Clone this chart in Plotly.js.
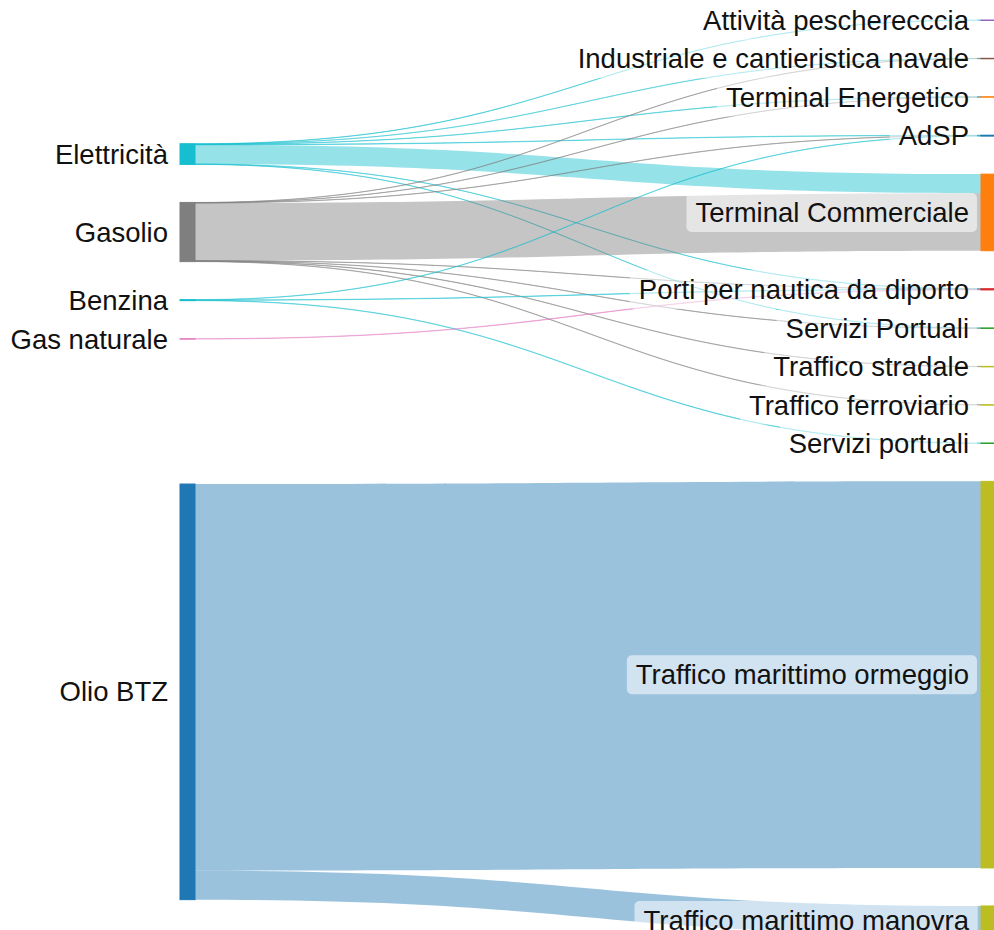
<!DOCTYPE html>
<html>
<head>
<meta charset="utf-8">
<script src="https://cdn.plot.ly/plotly-3.0.1.min.js"></script>
<style>
  html, body { margin: 0; padding: 0; overflow: hidden; background: #fff; }
  #chart { width: 996px; height: 950px; }
</style>
</head>
<body>
<div id="chart"></div>
<script>
// ---------------- data ----------------
const sourceLabels = ["Elettricità", "Gasolio", "Benzina", "Gas naturale", "Olio BTZ"];
const targetLabels = [
  "Attività pescherecccia", "Industriale e cantieristica navale", "Terminal Energetico", "AdSP",
  "Terminal Commerciale", "Porti per nautica da diporto", "Servizi Portuali", "Traffico stradale",
  "Traffico ferroviario", "Servizi portuali", "Traffico marittimo ormeggio", "Traffico marittimo manovra"
];
const sourceColors = ["#17becf", "#7f7f7f", "#17becf", "#e377c2", "#1f77b4"];
const targetColors = [
  "#9467bd", "#8c564b", "#ff7f0e", "#1f77b4",
  "#ff7f0e", "#d62728", "#2ca02c", "#bcbd22",
  "#bcbd22", "#2ca02c", "#bcbd22", "#bcbd22"
];
const linkSources = [
  "Elettricità", "Elettricità", "Elettricità", "Elettricità", "Elettricità", "Elettricità", "Elettricità",
  "Gasolio", "Gasolio", "Gasolio", "Gasolio", "Gasolio", "Gasolio", "Gasolio", "Gasolio",
  "Benzina", "Benzina", "Benzina",
  "Gas naturale",
  "Olio BTZ", "Olio BTZ"
];
const linkTargets = [
  "Attività pescherecccia", "Industriale e cantieristica navale", "Terminal Energetico", "AdSP",
  "Terminal Commerciale", "Porti per nautica da diporto", "Servizi Portuali",
  "Industriale e cantieristica navale", "Terminal Energetico", "AdSP", "Terminal Commerciale",
  "Porti per nautica da diporto", "Servizi Portuali", "Traffico stradale", "Traffico ferroviario",
  "AdSP", "Porti per nautica da diporto", "Servizi portuali",
  "Porti per nautica da diporto",
  "Traffico marittimo ormeggio", "Traffico marittimo manovra"
];
const linkValues = [
  0.3, 0.2, 0.3, 0.35, 19.1, 0.25, 0.2,
  0.2, 0.2, 0.25, 57.4, 0.2, 0.25, 0.3, 0.3,
  0.3, 0.35, 0.4,
  0.4,
  386, 29
];

(function () {
  // ---------------- layout constants ----------------
  const FIG_W = 996, FIG_H = 950;
  const MARGIN = { l: 180, r: 0, t: 20, b: 15 };
  const PAD = 38, THICK = 15, GAP = 12;
  const W = FIG_W - MARGIN.l - MARGIN.r;
  const H = FIG_H - MARGIN.t - MARGIN.b;

  const nodeLabels = sourceLabels.concat(targetLabels);
  const nodeColors = sourceColors.concat(targetColors);
  const nS = sourceLabels.length;
  const src = linkSources.map(s => nodeLabels.indexOf(s));
  const tgt = linkTargets.map(t => nodeLabels.indexOf(t));

  function hexToRgba(hex, a) {
    const n = parseInt(hex.slice(1), 16);
    return "rgba(" + ((n >> 16) & 255) + "," + ((n >> 8) & 255) + "," + (n & 255) + "," + a + ")";
  }
  const linkColors = src.map(i => hexToRgba(nodeColors[i], 0.45));

  // node values and vertical placement derived from the flows
  const nodeVal = nodeLabels.map((_, i) => {
    let a = 0, b = 0;
    linkValues.forEach((v, k) => { if (src[k] === i) a += v; if (tgt[k] === i) b += v; });
    return Math.max(a, b);
  });
  const srcIdx = sourceLabels.map((_, i) => i);
  const tgtIdx = targetLabels.map((_, j) => nS + j);
  const colKy = col => (H - (col.length - 1) * PAD) / col.reduce((s, i) => s + nodeVal[i], 0);
  const ky = Math.min(colKy(srcIdx), colKy(tgtIdx));

  const nodeTop = new Array(nodeLabels.length).fill(0);
  let acc = 0;
  tgtIdx.forEach(i => { nodeTop[i] = acc; acc += nodeVal[i] * ky + PAD; });
  const desired = srcIdx.map(s => {
    let num = 0, den = 0;
    linkValues.forEach((v, k) => {
      if (src[k] !== s) return;
      const t = tgt[k];
      let arr = nodeTop[t], dep = 0;
      linkValues.forEach((v2, k2) => {
        if (tgt[k2] === t && src[k2] < s) arr += v2 * ky;
        if (src[k2] === s && tgt[k2] < t) dep += v2 * ky;
      });
      num += v * (arr - dep); den += v;
    });
    return num / den;
  });
  let blocks = srcIdx.map(s => ({ nodes: [s], w: nodeVal[s], pos: desired[s], h: nodeVal[s] * ky }));
  blocks.forEach(b => { b.sum = b.w * b.pos; });
  let merged = true;
  while (merged) {
    merged = false;
    for (let k = 1; k < blocks.length; k++) {
      const a = blocks[k - 1], b = blocks[k];
      if (b.pos < a.pos + a.h + PAD) {
        const off = a.h + PAD;
        const nb = { nodes: a.nodes.concat(b.nodes), w: a.w + b.w, h: a.h + PAD + b.h };
        nb.sum = a.sum + b.sum - b.w * off;
        nb.pos = nb.sum / nb.w;
        blocks.splice(k - 1, 2, nb);
        merged = true;
        break;
      }
    }
  }
  blocks.forEach(b => {
    let y = Math.max(0, Math.min(H - b.h, b.pos));
    b.nodes.forEach(s => { nodeTop[s] = y; y += nodeVal[s] * ky + PAD; });
  });

  const nodeX = nodeLabels.map((_, i) => i < nS ? (THICK / 2) / W : 1 - (THICK / 2) / W);
  const nodeY = nodeLabels.map((_, i) => (nodeTop[i] + nodeVal[i] * ky / 2) / H);

  const data = [{
    type: "sankey",
    orientation: "h",
    arrangement: "fixed",
    node: {
      label: nodeLabels,
      color: nodeColors,
      x: nodeX,
      y: nodeY,
      pad: PAD,
      thickness: THICK,
      line: { width: 0 }
    },
    link: {
      source: src,
      target: tgt,
      value: linkValues,
      color: linkColors
    },
    textfont: { family: "Liberation Sans, Arial, sans-serif", size: 27.5, color: "#111" }
  }];

  const layout = {
    width: FIG_W,
    height: FIG_H,
    margin: MARGIN,
    paper_bgcolor: "#fff",
    plot_bgcolor: "#fff"
  };

  const SVGNS = "http://www.w3.org/2000/svg";
  function fixLabels() {
    const gd = document.getElementById("chart");
    gd.querySelectorAll(".sankey-node").forEach(g => {
      const nr = g.querySelector(".node-rect");
      if (nr) {
        const f = nr.style.fill || nr.getAttribute("fill");
        if (f) {
          nr.style.stroke = f;
          nr.style.strokeWidth = "1px";
          nr.style.strokeOpacity = "1";
        }
      }
      const t = g.querySelector(".node-label");
      if (!t) return;
      let y = parseFloat(t.getAttribute("data-fy"));
      if (isNaN(y)) {
        const m = /translate\(\s*([-\d.e]+)[ ,]+([-\d.e]+)\s*\)/.exec(t.getAttribute("transform") || "");
        y = m ? parseFloat(m[2]) : 0;
        t.setAttribute("data-fy", y);
      }
      const tr = "translate(" + (-GAP) + "," + y + ")";
      t.setAttribute("text-anchor", "end");
      t.style.textAnchor = "end";
      t.setAttribute("transform", tr);
      t.style.textShadow = "none";
      let r = g.querySelector("rect.label-bg");
      if (!r) {
        r = document.createElementNS(SVGNS, "rect");
        r.setAttribute("class", "label-bg");
        g.insertBefore(r, t);
      }
      const bb = t.getBBox();
      r.setAttribute("transform", tr);
      r.setAttribute("x", bb.x - 9);
      r.setAttribute("y", bb.y - 4);
      r.setAttribute("width", bb.width + 17);
      r.setAttribute("height", bb.height + 8);
      r.setAttribute("rx", 5);
      r.setAttribute("ry", 5);
      r.setAttribute("fill", "rgba(255,255,255,0.55)");
      r.style.pointerEvents = "none";
    });
  }

  Plotly.newPlot("chart", data, layout, { displayModeBar: false }).then(() => {
    fixLabels();
    requestAnimationFrame(fixLabels);
    setTimeout(fixLabels, 300);
    setTimeout(fixLabels, 900);
  });
})();
</script>
</body>
</html>
